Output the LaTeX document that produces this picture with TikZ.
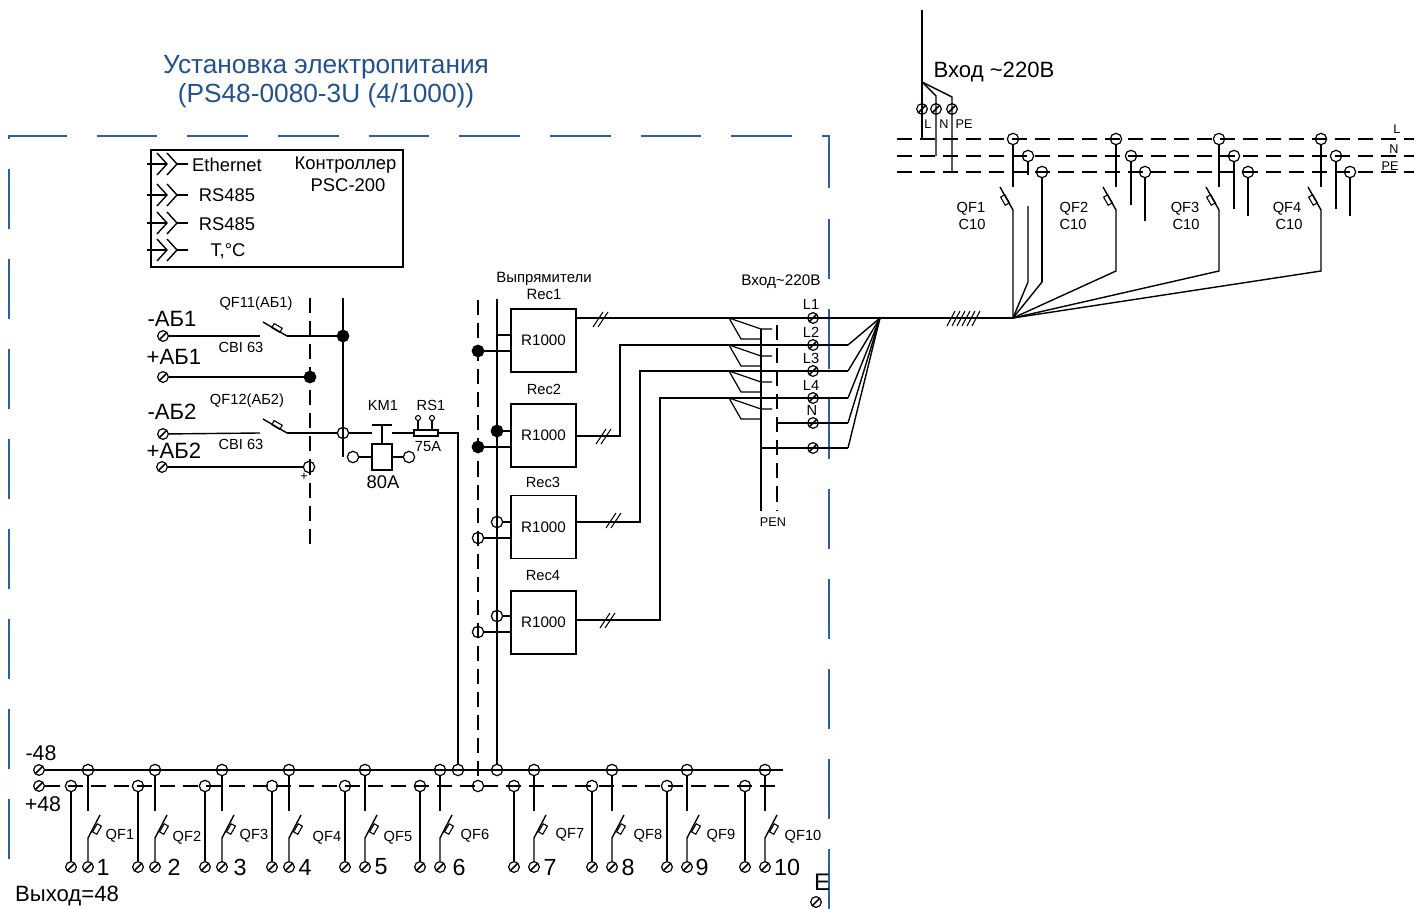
\documentclass[tikz,border=0pt]{standalone}
\usepackage{fontspec}
\setmainfont{Liberation Sans}
\definecolor{frameblue}{HTML}{2F5F9E}
\definecolor{titleblue}{HTML}{23518C}
\begin{document}
\begin{tikzpicture}[x=0.75pt,y=-0.75pt,line width=1.05pt,
  lblT/.style={inner sep=0,font=\fontsize{9.5}{11}\selectfont},
  lblS/.style={inner sep=0,font=\fontsize{11}{13}\selectfont},
  lblM/.style={inner sep=0,font=\fontsize{13.8}{16}\selectfont},
  lblL/.style={inner sep=0,font=\fontsize{16.6}{19}\selectfont},
  clamp/.style={draw,circle,inner sep=0,minimum size=8pt,line width=0.9pt,
    path picture={\draw[line width=1.1pt] (path picture bounding box.south west) -- (path picture bounding box.north east);}},
  tap/.style={draw,circle,inner sep=0,minimum size=8.5pt,line width=0.9pt},
  joint/.style={draw,circle,fill,inner sep=0,minimum size=8.5pt},
  fuse/.style={draw,inner sep=0,minimum width=7pt,minimum height=3.6pt,line width=0.8pt},
  recbox/.style={draw,inner sep=0,minimum width=49pt,minimum height=47.5pt,font=\fontsize{11.4}{13}\selectfont},
  busdash/.style={dash pattern=on 11.3pt off 6pt},
  framed/.style={draw=frameblue,line width=1.1pt}]
\useasboundingbox (0,0) rectangle (1421,909);

% frame
\draw[framed,dash pattern=on 45.4pt off 22.6pt] (9,139) -- (9,136) -- (829,136) -- (829,188);
\draw[framed,dash pattern=on 45pt off 22.5pt] (829,219) -- (829,909);
\draw[framed,dash pattern=on 45pt off 22.5pt] (9,169) -- (9,860);

\node[lblL,text=titleblue,align=center,font=\fontsize{19.7}{21.8}\selectfont] (title) at (326,82)
  {Установка электропитания\\(PS48-0080-3U (4/1000))};

% controller
\node[draw,minimum width=189pt,minimum height=88pt,inner sep=0] (ctrl) at (277,208.5) {};
\foreach \n/\y in {1/164,2/195,3/223,4/250}{
  \draw (147,\y) -- (167,\y);
  \draw (157,\y-11) -- (167,\y) -- (157,\y+11);
  \draw (167,\y-11) -- (177,\y) -- (167,\y+11);
  \draw (177,\y) -- (188,\y);
}
\node[lblM] (port1) at (227,165) {Ethernet};
\node[lblM] (port2) at (227,195) {RS485};
\node[lblM] (port3) at (227,224) {RS485};
\node[lblM] (port4) at (228,251) {T,°C};
\node[lblM] (ctrlname) at (345.5,165) {Контроллер};
\node[lblM] (ctrltype) at (348,185.5) {PSC-200};

% batteries
\node[lblL] (txtA1) at (172,319) {-АБ1};
\node[lblL] (txtB1) at (174,357) {+АБ1};
\node[lblL] (txtA2) at (172,412) {-АБ2};
\node[lblL] (txtB2) at (174,451) {+АБ2};
\node[lblS] (txtQ11) at (256,304) {QF11(АБ1)};
\node[lblS] (txtC1) at (241,347) {CBI 63};
\node[lblS] (txtQ12) at (247,401) {QF12(АБ2)};
\node[lblS] (txtC2) at (241,444) {CBI 63};
\node[lblT] (txtplus) at (304,477) {+};

\node[clamp] (A1) at (163,336) {};
\node[clamp] (B1) at (163,377) {};
\node[clamp] (A2) at (163,434) {};
\node[clamp] (B2) at (162,467) {};
\node[joint] (JA) at (343,336) {};
\node[joint] (JB) at (310,377) {};
\node[tap] (JC) at (343,433) {};
\node[tap] (JD) at (309,467) {};

\coordinate (minusTop) at (343,298);
\coordinate (minusBot) at (343,457);
\coordinate (plusTop) at (310,298);
\coordinate (plusBot) at (310,549);
\draw (minusTop) -- (minusBot);
\draw[busdash] (plusTop) -- (plusBot);
\draw (B1) -- (JB);
\draw (B2) -- (JD);

\foreach \n/\y in {1/336,2/433}{
  \coordinate (QE\n) at (260,\y);
  \coordinate (QS\n) at (263,\y-14);
  \coordinate (QR\n) at (287,\y);
  \draw (QS\n) -- (QR\n);
  \node[fuse,rotate=-30] (QU\n) at (277,\y-8) {};
}
\draw (A1) -- (QE1);
\draw (A2) -- (QE2);
\draw (QR1) -- (JA);
\draw (QR2) -- (JC);

% contactor and shunt
\coordinate (KL) at (372,433);
\coordinate (KR) at (392,433);
\coordinate (KT) at (382,425);
\draw (JC) -- (KL);
\draw (372,425) -- (392,425);
\node[draw,minimum width=15pt,minimum height=19.5pt,inner sep=0] (coil) at (382,457) {};
\draw (KT) -- (coil.north);
\node[tap] (CA) at (353,457) {};
\node[tap] (CB) at (409,457) {};
\draw (CA) -- (coil);
\draw (CB) -- (coil);
\node[fuse,minimum width=18pt,minimum height=4.5pt] (RS) at (426,433) {};
\draw (KR) -- (RS);
\foreach \n/\x in {1/418,2/432}{
  \node[draw,circle,inner sep=0,minimum size=3.8pt,line width=0.8pt] (RT\n) at (\x,418) {};
  \draw (RT\n) -- (\x,430);
}
\node[lblS] (txtKM) at (383,405) {KM1};
\node[lblS] (txtRS) at (431,405) {RS1};
\node[lblS] (txt75) at (428,447) {75А};
\node[lblM] (txt80) at (383,482) {80А};

% rectifiers
\node[lblS,align=center,font=\fontsize{11.2}{12.8}\selectfont] (txtRec) at (544,285.5) {Выпрямители\\Rec1};
\node[lblS] (txtRec2) at (544,389) {Rec2};
\node[lblS] (txtRec3) at (543,482) {Rec3};
\node[lblS] (txtRec4) at (543,576) {Rec4};
\node[recbox] (R1) at (543.5,340.5) {R1000};
\node[recbox] (R2) at (543.5,435.5) {R1000};
\node[recbox] (R3) at (543.5,527) {R1000};
\node[recbox] (R4) at (543.5,622.5) {R1000};

\coordinate (recP) at (497,299);
\coordinate (recM) at (478,300);
\node[tap] (TR) at (497,770) {};
\node[tap] (TS) at (478,786) {};
\draw (recP) -- (TR);
\draw[busdash] (recM) -- (TS);

\coordinate (P1) at (497,335);
\node[joint] (M1) at (478,351) {};
\node[joint] (P2) at (497,431) {};
\node[joint] (M2) at (478,447) {};
\node[tap] (P3) at (497,522) {};
\node[tap] (M3) at (478,538) {};
\node[tap] (P4) at (497,616) {};
\node[tap] (M4) at (478,632) {};
\foreach \n in {1,2,3,4}{
  \draw (P\n) -- (P\n -| R\n.west);
  \draw (M\n) -- (M\n -| R\n.west);
}

% input side of the rectifiers
\coordinate (apexL) at (880,318);
\coordinate (apexQ) at (1013,318);
\draw (R1.east |- apexL) -- (apexQ);
\foreach \n/\y in {1/318,2/345,3/371,4/398,5/423,6/448}
  \node[clamp] (CL\n) at (813,\y) {};
\foreach \n/\y in {2/345,3/371,4/398,5/423,6/448}{
  \coordinate (FN\n) at (848,\y);
  \draw (FN\n) -- (apexL);
}
\coordinate (K2) at (620,436);
\coordinate (K3) at (640,522);
\coordinate (K4) at (660,620);
\foreach \n in {2,3,4}
  \draw (R\n.east |- K\n) -- (K\n) |- (FN\n);

\foreach \x/\y in {593/327,598/327,596/444,601/444,606/528,611/528,600/628,605/628}
  \draw[line width=0.8pt] (\x,\y) -- ++(10,-15);
\foreach \x in {947,952,957,962,967,972}
  \draw[line width=0.8pt] (\x,326) -- ++(8,-15);

\foreach \y in {318,345,371,398}{
  \draw[line width=0.9pt] (729,\y) -- ++(32,11) -- ++(11,0);
  \draw[line width=0.9pt] (729,\y) -- ++(12,21) -- ++(20,0);
}
\coordinate (peTop) at (761,329);
\coordinate (peBot) at (761,511);
\coordinate (nTop) at (777,325);
\coordinate (nBot) at (777,511);
\draw[line width=1.3pt] (peTop) -- (peBot);
\draw[busdash] (nTop) -- (nBot);
\draw (peTop |- FN6) -- (FN6);
\draw (nTop |- FN5) -- (FN5);

\node[lblS,font=\fontsize{11.5}{13}\selectfont] (txtIn) at (781,282) {Вход\textasciitilde220В};
\node[lblS] (txtL1) at (811,304) {L1};
\node[lblS] (txtL2) at (811,332) {L2};
\node[lblS] (txtL3) at (811,358) {L3};
\node[lblS] (txtL4) at (811,385) {L4};
\node[lblS] (txtN) at (812,410) {N};
\node[lblT] (txtPEN) at (773,522) {PEN};

% mains
\node[lblL] (txtMains) at (994,72) {Вход \textasciitilde220В};
\coordinate (inTop) at (922,10);
\coordinate (inL) at (922,139);
\coordinate (inBr) at (922,82);
\coordinate (inNa) at (936,96);
\coordinate (inNb) at (936,156);
\coordinate (inPa) at (952,97);
\coordinate (inPb) at (952,172);
\draw (inTop) -- (inL);
\draw (inBr) -- (inNa) -- (inNb);
\draw (inBr) -- (inPa) -- (inPb);
\node[clamp] (CI1) at (922,109) {};
\node[clamp] (CI2) at (936,109) {};
\node[clamp] (CI3) at (952,109) {};
\node[lblT] (txtIL) at (928,124) {L};
\node[lblT] (txtIN) at (944,124) {N};
\node[lblT] (txtIP) at (964,124) {PE};
\node[lblT] (txtBL) at (1397,129) {L};
\node[lblT] (txtBN) at (1394,149) {N};
\node[lblT] (txtBP) at (1390,166) {PE};

\foreach \n/\y in {1/139,2/156,3/172}{
  \coordinate (BS\n) at (897,\y);
  \coordinate (BE\n) at (1414,\y);
  \draw[busdash] (BS\n) -- (BE\n);
}
\foreach \n/\x/\yn/\yp/\xa/\xb in {1/1013/175/282/971/972,2/1116/205/221/1074/1073,3/1219/209/216/1185/1186,4/1321/209/216/1287/1289}{
  \node[tap] (TL\n) at (\x,139) {};
  \node[tap] (TN\n) at (\x+15,156) {};
  \node[tap] (TP\n) at (\x+29,172) {};
  \coordinate (SA\n) at (\x,187);
  \coordinate (SB\n) at (\x-13,187);
  \coordinate (SC\n) at (\x,210);
  \coordinate (SD\n) at (\x,271);
  \coordinate (EN\n) at (\x+15,\yn);
  \coordinate (EP\n) at (\x+29,\yp);
  \draw (TL\n) -- (SA\n);
  \draw (SB\n) -- (SC\n) -- (SD\n) -- (apexQ);
  \draw (TN\n) -- (EN\n);
  \draw (TP\n) -- (EP\n);
  \node[fuse,rotate=-60] (FU\n) at (\x-8,200) {};
  \node[lblS] (txtQ\n) at (\xa,208.5) {QF\n};
  \node[lblS] (txtK\n) at (\xb,224) {C10};
}
\coordinate (WN) at (1028,206);
\coordinate (WB) at (1028,282);
\draw (WN) -- (WB) -- (apexQ);
\draw (EP1) -- (apexQ);

% output buses
\node[lblM,font=\fontsize{16}{17}\selectfont] (txtM48) at (41,753) {-48};
\node[lblM,font=\fontsize{16}{17}\selectfont] (txtP48) at (43,804) {+48};
\node[lblM,font=\fontsize{16.6}{18}\selectfont] (txtOut) at (67,896) {Выход=48};
\node[lblL,font=\fontsize{18}{19}\selectfont] (txtE) at (822,882) {E};
\node[clamp] (CE) at (816,902) {};
\node[clamp] (CM) at (39,770) {};
\node[clamp] (CP) at (39,786) {};
\coordinate (CMe) at (783,770);
\coordinate (CPe) at (783,786);
\draw (CM) -- (CMe);
\draw[busdash] (CP) -- (CPe);
\node[tap] (TF) at (458,770) {};
\coordinate (FB) at (458,433);
\draw (RS) -- (FB) -- (TF);

\foreach \n/\xp/\xm/\xa/\ya/\xb in {1/71/88/120/836/103,2/138/155/187/838/174,3/205/222/254/836/240,4/272/289/327/838/305,5/345/365/398/838/381,6/420/440/475/836/459,7/514/534/570/835/550,8/592/612/648/836/628,9/667/687/721/836/702,10/745/765/803/837/787}{
  \node[tap] (OP\n) at (\xp,786) {};
  \node[tap] (OM\n) at (\xm,770) {};
  \node[clamp] (XP\n) at (\xp,867) {};
  \node[clamp] (XM\n) at (\xm,867) {};
  \coordinate (SE\n) at (\xm,811);
  \coordinate (SF\n) at (\xm+12,815);
  \coordinate (SG\n) at (\xm,838);
  \draw (OP\n) -- (XP\n);
  \draw (OM\n) -- (SE\n);
  \draw (SF\n) -- (SG\n) -- (XM\n);
  \node[fuse,rotate=60] (UF\n) at (\xm+9,829) {};
  \node[lblS] (txtO\n) at (\xa,\ya) {QF\n};
  \node[lblL,font=\fontsize{17.5}{19}\selectfont] (txtD\n) at (\xb,867) {\n};
}
\end{tikzpicture}
\end{document}
